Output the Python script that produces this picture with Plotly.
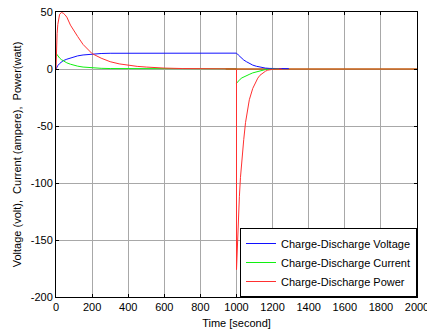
import plotly.graph_objects as go

# ---- data ----
t_voltage = [0, 3, 10, 20, 30, 40, 60, 80, 100, 120, 150, 200, 250, 300, 400, 500, 600, 700, 800, 900, 1000,
             1010, 1020, 1030, 1040, 1055, 1070, 1090, 1110, 1135, 1160, 1185, 1220, 1290]
voltage = [0, 1.5, 3.0, 4.8, 6.2, 7.3, 8.6, 9.8, 10.8, 11.5, 12.3, 13.2, 13.6, 13.8, 13.9, 13.9, 13.9, 13.9, 13.9, 13.9, 13.9,
           12.3, 10.6, 9.2, 7.9, 6.4, 5.0, 3.4, 2.4, 1.3, 0.8, 0.5, 0.3, 0.3]

t_current = [0, 10, 20, 30, 40, 60, 80, 100, 120, 150, 200, 250, 300, 400, 500, 600, 700, 800, 900, 1000,
             1000, 1010, 1020, 1030, 1040, 1055, 1070, 1090, 1110, 1135, 1160, 1190, 1236]
current = [13.8, 11.5, 9.6, 8.2, 7.0, 5.4, 4.2, 3.2, 2.5, 1.7, 1.0, 0.6, 0.4, 0.3, 0.2, 0.2, 0.2, 0.2, 0.2, 0.2,
           -12.5, -10.5, -9.0, -7.8, -6.9, -5.9, -4.8, -3.4, -2.4, -1.2, -0.5, -0.2, 0]

t_power = [0, 3, 6, 10, 15, 20, 30, 40, 50, 60, 80, 100, 120, 150, 200, 250, 300, 350, 400, 450, 500, 550, 600, 700, 800, 900, 1000,
           1000, 1005, 1010, 1016, 1022, 1030, 1040, 1050, 1060, 1071, 1090, 1105, 1118, 1130, 1145, 1160, 1173, 1200, 1250]
power = [0, 20, 31, 39, 45, 48, 49.5, 49, 47.5, 45.5, 38.5, 33, 28.5, 21.5, 13.5, 9.5, 6.4, 4.5, 3.2, 2.3, 1.7, 1.2, 0.8, 0.4, 0.2, 0.1, 0.1,
         -176, -150, -130, -112, -95, -78, -62, -47, -37, -27, -17, -11.5, -8, -5.5, -3.6, -2, -1, -0.3, 0]

t_baseline = [940, 2000]
baseline = [0, 0]

x_ticks = [0, 200, 400, 600, 800, 1000, 1200, 1400, 1600, 1800, 2000]
y_ticks = [50, 0, -50, -100, -150, -200]

font_family = "Liberation Sans, Arial, sans-serif"

fig = go.Figure()
fig.add_trace(go.Scatter(x=t_baseline, y=baseline, mode="lines", showlegend=False,
                         line=dict(color="#c45c10", width=1.6)))
fig.add_trace(go.Scatter(x=t_voltage, y=voltage, mode="lines", name="Charge-Discharge Voltage",
                         line=dict(color="#1010ff", width=1)))
fig.add_trace(go.Scatter(x=t_current, y=current, mode="lines", name="Charge-Discharge Current",
                         line=dict(color="#10f010", width=1)))
fig.add_trace(go.Scatter(x=t_power, y=power, mode="lines", name="Charge-Discharge Power",
                         line=dict(color="#ff3030", width=1)))

axis_common = dict(showline=True, linecolor="black", linewidth=1, mirror="ticks",
                   ticks="inside", ticklen=3, tickcolor="black",
                   showgrid=True, gridcolor="#a8a8a8", gridwidth=1, zeroline=False,
                   automargin=False, ticklabeloverflow="allow",
                   tickfont=dict(family=font_family, size=11, color="black"))

fig.update_layout(
    width=427, height=332,
    margin=dict(l=56, r=10, t=12, b=35),
    paper_bgcolor="white", plot_bgcolor="white",
    font=dict(family=font_family, size=11, color="black"),
    xaxis=dict(range=[0, 2000], tickvals=x_ticks, ticktext=[str(v) for v in x_ticks],
               title=dict(text="Time [second]", font=dict(size=11), standoff=7), **axis_common),
    yaxis=dict(range=[-200, 50], tickvals=y_ticks, ticktext=[str(v) for v in y_ticks],
               title=dict(text="Voltage (volt),  Current (ampere),  Power(watt)", font=dict(size=11), standoff=6),
               **axis_common),
    legend=dict(x=1, y=0, xanchor="right", yanchor="bottom", bgcolor="white",
                bordercolor="black", borderwidth=1, font=dict(size=11),
                tracegroupgap=0, itemwidth=30),
    showlegend=True,
)

fig.write_html("out.html")
